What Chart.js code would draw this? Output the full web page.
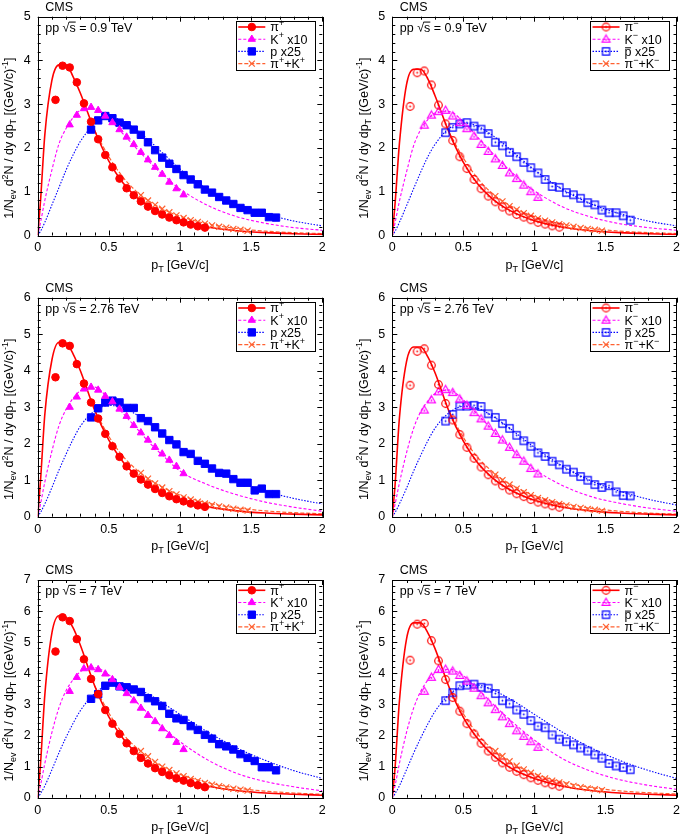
<!DOCTYPE html>
<html><head><meta charset="utf-8">
<script src="https://cdn.jsdelivr.net/npm/chart.js@4"></script>
<style>
html,body{margin:0;padding:0;background:#fff;}
#wrap{position:relative;width:685px;height:839px;overflow:hidden;}
canvas{position:absolute;}
</style></head><body><div id="wrap"></div>
<script>
// ---- bin centres (pT, GeV/c) ----
const piX = [0.125,0.175,0.225,0.275,0.325,0.375,0.425,0.475,0.525,0.575,0.625,0.675,0.725,0.775,0.825,0.875,0.925,0.975,1.025,1.075,1.125,1.175];
const kX = [0.225,0.275,0.325,0.375,0.425,0.475,0.525,0.575,0.625,0.675,0.725,0.775,0.825,0.875,0.925,0.975,1.025];
const pX = [0.375,0.425,0.475,0.525,0.575,0.625,0.675,0.725,0.775,0.825,0.875,0.925,0.975,1.025,1.075,1.125,1.175,1.225,1.275,1.325,1.375,1.425,1.475,1.525,1.575,1.625,1.675];
const pikX = [0.725,0.775,0.825,0.875,0.925,0.975,1.025,1.075,1.125,1.175,1.225,1.275,1.325,1.375,1.425,1.475];
const fitX = [0,0.02,0.05,0.1,0.15,0.2,0.25,0.3,0.4,0.5,0.6,0.7,0.8,0.9,1.0,1.2,1.4,1.6,1.8,2.0];
const pikFitX = [0.4,0.5,0.6,0.7,0.8,0.9,1.0,1.2,1.4,1.6,1.8,2.0];
const xTickLabels = ['0','0.5','1','1.5','2'];

// ---- 0.9 TeV ----
const piPos09 = [3.10,3.88,3.84,3.50,3.02,2.60,2.20,1.84,1.56,1.30,1.08,0.92,0.78,0.66,0.56,0.48,0.41,0.35,0.30,0.25,0.21,0.18];
const kPos09 = [2.53,2.75,2.90,2.93,2.86,2.73,2.58,2.42,2.25,2.08,1.90,1.73,1.56,1.40,1.22,1.07,0.93];
const pPos09 = [2.42,2.63,2.73,2.68,2.58,2.52,2.42,2.30,2.13,1.95,1.78,1.64,1.52,1.38,1.28,1.17,1.05,0.98,0.88,0.80,0.72,0.63,0.58,0.52,0.52,0.42,0.41];
const pikPos09 = [0.92,0.80,0.70,0.61,0.53,0.46,0.40,0.35,0.31,0.27,0.23,0.20,0.18,0.15,0.13,0.11];
const piFitPos09 = [0,0.8,2.3,3.55,3.9,3.9,3.62,3.25,2.4,1.7,1.2,0.86,0.63,0.46,0.34,0.19,0.11,0.065,0.04,0.025];
const kFitPos09 = [0,0.3,0.8,1.5,2.1,2.45,2.7,2.86,2.9,2.67,2.32,1.97,1.63,1.33,1.06,0.68,0.43,0.28,0.18,0.12];
const pFitPos09 = [0,0.1,0.3,0.7,1.1,1.5,1.85,2.15,2.55,2.7,2.62,2.4,2.12,1.82,1.52,1.05,0.72,0.5,0.33,0.22];
const pikFitPos09 = [2.4,1.8,1.33,0.99,0.75,0.57,0.44,0.26,0.16,0.1,0.065,0.045];

const piNeg09 = [2.95,3.72,3.76,3.44,2.98,2.55,2.17,1.80,1.53,1.28,1.07,0.90,0.77,0.65,0.56,0.48,0.42,0.36,0.30,0.26,0.22,0.19];
const kNeg09 = [2.52,2.75,2.83,2.86,2.73,2.58,2.44,2.27,2.08,1.92,1.75,1.60,1.43,1.30,1.15,1.00,0.87];
const pNeg09 = [2.35,2.47,2.55,2.58,2.50,2.43,2.33,2.13,2.05,1.90,1.80,1.67,1.55,1.43,1.28,1.12,1.10,0.98,0.93,0.85,0.75,0.70,0.58,0.52,0.52,0.45,0.35];
const pikNeg09 = [0.90,0.78,0.67,0.59,0.51,0.45,0.39,0.34,0.30,0.26,0.23,0.20,0.17,0.15,0.13,0.11];
const piFitNeg09 = [0,0.75,2.1,3.45,3.8,3.8,3.58,3.2,2.35,1.67,1.18,0.85,0.62,0.46,0.34,0.19,0.11,0.065,0.04,0.025];
const kFitNeg09 = [0,0.3,0.78,1.45,2.05,2.42,2.65,2.8,2.83,2.6,2.25,1.9,1.57,1.27,1.02,0.65,0.42,0.27,0.18,0.12];
const pFitNeg09 = [0,0.1,0.3,0.68,1.07,1.45,1.8,2.08,2.45,2.57,2.5,2.3,2.05,1.77,1.5,1.05,0.72,0.5,0.33,0.22];
const pikFitNeg09 = [2.35,1.77,1.31,0.97,0.74,0.56,0.43,0.26,0.16,0.1,0.065,0.045];

// ---- 2.76 TeV ----
const piPos276 = [3.82,4.75,4.68,4.18,3.65,3.13,2.69,2.27,1.93,1.64,1.38,1.18,1.02,0.88,0.76,0.65,0.56,0.48,0.42,0.36,0.31,0.27];
const kPos276 = [3.00,3.28,3.50,3.55,3.47,3.30,3.15,2.95,2.75,2.50,2.30,2.10,1.90,1.72,1.55,1.38,1.18];
const pPos276 = [2.72,2.97,3.13,3.18,3.13,2.98,2.98,2.70,2.62,2.45,2.28,2.10,1.98,1.77,1.72,1.53,1.45,1.32,1.20,1.18,1.03,0.93,0.93,0.72,0.77,0.62,0.62];
const pikPos276 = [1.20,1.04,0.91,0.80,0.70,0.61,0.53,0.47,0.41,0.36,0.32,0.28,0.25,0.22,0.19,0.17];
const piFitPos276 = [0,1.0,2.8,4.3,4.78,4.75,4.45,4.0,2.92,2.1,1.5,1.1,0.81,0.61,0.46,0.27,0.16,0.1,0.07,0.05];
const kFitPos276 = [0,0.35,0.95,1.8,2.5,2.95,3.25,3.45,3.55,3.22,2.83,2.4,1.97,1.6,1.25,0.87,0.6,0.4,0.26,0.15];
const pFitPos276 = [0,0.12,0.35,0.8,1.28,1.72,2.13,2.48,2.9,3.05,2.98,2.78,2.5,2.2,1.9,1.38,0.98,0.7,0.5,0.35];
const pikFitPos276 = [2.92,2.2,1.65,1.27,0.98,0.76,0.59,0.37,0.24,0.16,0.11,0.08];

const piNeg276 = [3.60,4.53,4.60,4.15,3.62,3.10,2.65,2.25,1.90,1.60,1.36,1.15,0.98,0.85,0.73,0.63,0.55,0.47,0.40,0.35,0.30,0.26];
const kNeg276 = [2.92,3.20,3.42,3.48,3.40,3.22,3.05,2.85,2.68,2.48,2.28,2.10,1.90,1.70,1.52,1.32,1.17];
const pNeg276 = [2.62,2.80,3.03,3.03,3.05,3.02,2.82,2.72,2.55,2.42,2.23,2.08,1.93,1.75,1.65,1.52,1.42,1.30,1.22,1.10,1.00,0.88,0.80,0.85,0.68,0.58,0.57];
const pikNeg276 = [1.15,1.00,0.88,0.77,0.67,0.59,0.51,0.45,0.40,0.35,0.31,0.27,0.24,0.21,0.19,0.16];
const piFitNeg276 = [0,0.9,2.7,4.25,4.65,4.65,4.38,3.95,2.88,2.07,1.48,1.08,0.8,0.6,0.45,0.26,0.16,0.1,0.07,0.05];
const kFitNeg276 = [0,0.35,0.92,1.75,2.42,2.88,3.17,3.37,3.47,3.2,2.8,2.4,2.0,1.63,1.3,0.85,0.55,0.37,0.24,0.15];
const pFitNeg276 = [0,0.12,0.35,0.78,1.25,1.68,2.08,2.42,2.85,3.02,2.97,2.77,2.5,2.2,1.9,1.38,0.98,0.7,0.48,0.32];
const pikFitNeg276 = [2.88,2.17,1.63,1.25,0.96,0.75,0.58,0.36,0.23,0.15,0.1,0.07];

// ---- 7 TeV ----
const piPos7 = [4.70,5.80,5.68,5.10,4.45,3.82,3.33,2.82,2.38,2.05,1.75,1.50,1.28,1.10,0.95,0.83,0.72,0.62,0.55,0.47,0.40,0.34];
const kPos7 = [3.42,3.87,4.15,4.18,4.12,3.98,3.80,3.55,3.35,3.12,2.88,2.65,2.45,2.22,2.00,1.78,1.55];
const pPos7 = [3.18,3.33,3.60,3.70,3.58,3.55,3.48,3.40,3.20,3.10,2.95,2.70,2.55,2.50,2.30,2.18,2.02,1.90,1.72,1.65,1.55,1.40,1.28,1.18,0.98,0.98,0.88];
const pikPos7 = [1.50,1.33,1.15,1.00,0.89,0.78,0.69,0.60,0.54,0.47,0.42,0.37,0.33,0.29,0.26,0.23];
const piFitPos7 = [0,1.1,3.3,5.3,5.85,5.8,5.45,4.9,3.6,2.6,1.9,1.4,1.05,0.8,0.61,0.37,0.23,0.15,0.11,0.08];
const kFitPos7 = [0,0.4,1.1,2.1,2.9,3.45,3.8,4.05,4.18,3.95,3.5,3.05,2.6,2.17,1.8,1.2,0.78,0.52,0.35,0.22];
const pFitPos7 = [0,0.13,0.38,0.9,1.45,1.95,2.4,2.8,3.35,3.62,3.65,3.5,3.27,2.98,2.68,2.1,1.6,1.2,0.87,0.62];
const pikFitPos7 = [3.6,2.72,2.05,1.58,1.22,0.95,0.75,0.48,0.31,0.21,0.15,0.11];

const piNeg7 = [4.42,5.58,5.60,5.05,4.40,3.80,3.22,2.78,2.38,2.05,1.75,1.50,1.30,1.12,0.98,0.85,0.74,0.64,0.56,0.48,0.42,0.37];
const kNeg7 = [3.42,3.87,4.12,4.13,4.07,3.93,3.75,3.52,3.28,3.05,2.83,2.60,2.38,2.15,1.97,1.80,1.62];
const pNeg7 = [3.12,3.38,3.60,3.62,3.65,3.55,3.52,3.35,3.12,3.02,2.82,2.68,2.48,2.30,2.25,2.02,1.88,1.80,1.70,1.60,1.50,1.38,1.27,1.10,1.02,0.97,0.90];
const pikNeg7 = [1.50,1.34,1.17,1.03,0.91,0.80,0.70,0.62,0.55,0.49,0.43,0.38,0.34,0.30,0.27,0.24];
const piFitNeg7 = [0,1.0,3.1,5.1,5.62,5.62,5.3,4.8,3.55,2.58,1.9,1.4,1.05,0.8,0.62,0.37,0.23,0.15,0.11,0.08];
const kFitNeg7 = [0,0.4,1.1,2.1,2.88,3.42,3.78,4.0,4.13,3.92,3.5,3.05,2.62,2.22,1.85,1.25,0.85,0.58,0.4,0.27];
const pFitNeg7 = [0,0.13,0.38,0.9,1.43,1.92,2.37,2.77,3.32,3.58,3.62,3.48,3.25,2.98,2.68,2.1,1.6,1.2,0.88,0.62];
const pikFitNeg7 = [3.55,2.7,2.05,1.58,1.23,0.97,0.77,0.5,0.33,0.22,0.16,0.12];

const yMaxes = [5,6,7];
const energies = ['0.9','2.76','7'];

// ---------------- drawing ----------------
const FAM = '"Liberation Sans", Arial, Helvetica, sans-serif';
const RED = '#ff0000', MAG = '#ff00ff', BLUE = '#0000ff', ORA = '#ff6030';

function pts(xs, ys){ const out=[]; for(let i=0;i<xs.length;i++){ if(ys[i]!=null) out.push({x:xs[i], y:ys[i]}); } return out; }

function openMarker(shape, color){
  const c=document.createElement('canvas'); const S=13; c.width=S; c.height=S;
  const g=c.getContext('2d'); g.strokeStyle=color; g.fillStyle=color; g.lineWidth=1.2;
  const m=S/2; g.beginPath();
  if(shape==='circle') g.arc(m,m,3.8,0,2*Math.PI);
  else if(shape==='rect') g.rect(m-3.6,m-3.6,7.2,7.2);
  else { g.moveTo(m,m-4.2); g.lineTo(m+4,m+2.8); g.lineTo(m-4,m+2.8); g.closePath(); }
  g.stroke();
  g.beginPath(); g.arc(m, shape==='tri'? m+0.5 : m, 0.9, 0, 2*Math.PI); g.fill();
  return c;
}
const openCircle = openMarker('circle', RED), openTri = openMarker('tri', MAG), openRect = openMarker('rect', BLUE);

function drawRich(ctx, segs, x, y, size, align){
  let w=0;
  const parts = segs.map(s=>{ const fs = s[1]? size*0.72 : size; ctx.font = fs+'px '+FAM; const mw = ctx.measureText(s[0]).width; w+=mw; return {t:s[0], lvl:s[1], fs, mw, bar:s[2]}; });
  let cx = align==='center'? x-w/2 : (align==='right'? x-w : x);
  ctx.textAlign='left'; ctx.textBaseline='alphabetic';
  const base = y + size*0.35;
  for(const p of parts){
    ctx.font = p.fs+'px '+FAM;
    const dy = p.lvl===1? -size*0.42 : (p.lvl===-1? size*0.25 : 0);
    ctx.fillText(p.t, cx, base+dy);
    if(p.bar==='bar') ctx.fillRect(cx+0.5, base - size*0.68, p.mw-1, 1);
    if(p.bar==='root') ctx.fillRect(cx-0.5, base - size*0.80, p.mw+0.5, 1);
    cx += p.mw;
  }
}

const yTitle = [['1/N',0],['ev',-1],[' d',0],['2',1],['N / dy dp',0],['T',-1],[' [(GeV/c)',0],['-1',1],[']',0]];
const xTitle = [['p',0],['T',-1],[' [GeV/c]',0]];
const legPos = [
  [['π',0],['+',1]],
  [['K',0],['+',1],[' x10',0]],
  [['p x25',0]],
  [['π',0],['+',1],['+K',0],['+',1]]
];
const legNeg = [
  [['π',0],['\u2212',1]],
  [['K',0],['\u2212',1],[' x10',0]],
  [['p',0,'bar'],[' x25',0]],
  [['π',0],['\u2212',1],['+K',0],['\u2212',1]]
];

const decor = {
  id:'decor',
  afterDatasetsDraw(chart, args, o){
    const ctx=chart.ctx, a=chart.chartArea, xs=chart.scales.x, ys=chart.scales.y;
    ctx.save();
    ctx.strokeStyle='#000'; ctx.lineWidth=1;
    ctx.beginPath();
    for(let v=0; v<=20; v++){
      const px = Math.round(xs.getPixelForValue(v/10))+0.5;
      const L = (v%5===0)? 5 : 3;
      ctx.moveTo(px, a.bottom); ctx.lineTo(px, a.bottom-L);
      ctx.moveTo(px, a.top); ctx.lineTo(px, a.top+L);
    }
    for(let v=0; v<=o.ymax*5; v++){
      const py = Math.round(ys.getPixelForValue(v/5))+0.5;
      const L = (v%5===0)? 5 : 3;
      ctx.moveTo(a.left, py); ctx.lineTo(a.left+L, py);
      ctx.moveTo(a.right, py); ctx.lineTo(a.right-L, py);
    }
    ctx.stroke();
    ctx.strokeRect(Math.round(a.left)+0.5, Math.round(a.top)+0.5, Math.round(a.right-a.left), Math.round(a.bottom-a.top));
    ctx.restore();
  },
  afterDraw(chart, args, o){
    const ctx=chart.ctx, a=chart.chartArea;
    ctx.save(); ctx.fillStyle='#000';
    drawRich(ctx, [['CMS',0]], a.left+7.5, a.top-10, 12.5, 'left');
    drawRich(ctx, [['pp ',0],['\u221A',0],['s',0,'root'],[' = '+o.energy+' TeV',0]], a.left+7.5, a.top+10.5, 12.5, 'left');
    drawRich(ctx, xTitle, (a.left+a.right)/2, a.bottom+29, 12.5, 'center');
    ctx.save(); ctx.translate(a.left-29, (a.top+a.bottom)/2+12); ctx.rotate(-Math.PI/2);
    drawRich(ctx, yTitle, 0, 0, 12.5, 'center'); ctx.restore();
    const bl=a.right-86.6, bt=a.top+4, bw=79.3, bh=49.3;
    ctx.fillStyle='#fff'; ctx.fillRect(bl,bt,bw,bh);
    ctx.strokeStyle='#000'; ctx.lineWidth=1; ctx.strokeRect(Math.round(bl)+0.5, Math.round(bt)+0.5, Math.round(bw), Math.round(bh));
    const labels = o.sign==='+'? legPos : legNeg;
    const ds = chart.data.datasets;
    for(let i=0;i<4;i++){
      const d = ds[i]; const f = ds[4+i];
      const ry = bt + 6.3 + 12.2*i;
      ctx.save();
      ctx.strokeStyle = f.borderColor; ctx.lineWidth = f.borderWidth; ctx.setLineDash(f.legendDash || []);
      ctx.beginPath(); ctx.moveTo(a.right-84, ry); ctx.lineTo(a.right-57, ry); ctx.stroke();
      ctx.setLineDash([]);
      ctx.fillStyle = d.backgroundColor; ctx.strokeStyle = d.borderColor; ctx.lineWidth = d.borderWidth||1;
      Chart.helpers.drawPoint(ctx, {pointStyle:d.pointStyle, radius:d.pointRadius, rotation:0, borderWidth:d.borderWidth||1}, a.right-70.5, ry);
      ctx.restore();
      ctx.fillStyle='#000';
      drawRich(ctx, labels[i], a.right-52, ry, 12.5, 'left');
    }
    ctx.restore();
  }
};

const sets = [
  {e:0, s:'+', pi:piPos09, k:kPos09, p:pPos09, pik:pikPos09, piF:piFitPos09, kF:kFitPos09, pF:pFitPos09, pikF:pikFitPos09},
  {e:0, s:'-', pi:piNeg09, k:kNeg09, p:pNeg09, pik:pikNeg09, piF:piFitNeg09, kF:kFitNeg09, pF:pFitNeg09, pikF:pikFitNeg09},
  {e:1, s:'+', pi:piPos276, k:kPos276, p:pPos276, pik:pikPos276, piF:piFitPos276, kF:kFitPos276, pF:pFitPos276, pikF:pikFitPos276},
  {e:1, s:'-', pi:piNeg276, k:kNeg276, p:pNeg276, pik:pikNeg276, piF:piFitNeg276, kF:kFitNeg276, pF:pFitNeg276, pikF:pikFitNeg276},
  {e:2, s:'+', pi:piPos7, k:kPos7, p:pPos7, pik:pikPos7, piF:piFitPos7, kF:kFitPos7, pF:pFitPos7, pikF:pikFitPos7},
  {e:2, s:'-', pi:piNeg7, k:kNeg7, p:pNeg7, pik:pikNeg7, piF:piFitNeg7, kF:kFitNeg7, pF:pFitNeg7, pikF:pikFitNeg7}
];

const rowTop = [0,280,560], rowH = [280,280,279];
const padTop = [16.7,17.7,20], xAxisH = [44.5,43.3,41.3];
const wrap = document.getElementById('wrap');

sets.forEach((S, idx)=>{
  const col = idx%2, row = Math.floor(idx/2);
  const W = col? 343 : 342, H = rowH[row];
  const cv = document.createElement('canvas');
  cv.width=W; cv.height=H; cv.style.left=(col?342:0)+'px'; cv.style.top=rowTop[row]+'px';
  cv.style.width=W+'px'; cv.style.height=H+'px';
  wrap.appendChild(cv);
  const pos = S.s==='+';
  const yw = col? 50.3 : 37.7, pr = col? 7.3 : 19.7, xh = xAxisH[row];
  const ymax = yMaxes[S.e];
  const datasets = [
    {data:pts(piX,S.pi), showLine:false, pointStyle: pos?'circle':openCircle, pointRadius: pos?3.8:4, backgroundColor:RED, borderColor:RED, borderWidth:1, order:0},
    {data:pts(kX,S.k), showLine:false, pointStyle: pos?'triangle':openTri, pointRadius: pos?4.2:4, backgroundColor:MAG, borderColor:MAG, borderWidth:1, order:0},
    {data:pts(pX,S.p), showLine:false, pointStyle: pos?'rect':openRect, pointRadius: pos?5.2:4, backgroundColor:BLUE, borderColor:BLUE, borderWidth:1, order:0},
    {data:pts(pikX,S.pik), showLine:false, pointStyle:'crossRot', pointRadius:4.3, backgroundColor:ORA, borderColor:ORA, borderWidth:1.2, order:0},
    {data:pts(fitX,S.piF), showLine:true, pointRadius:0, borderColor:RED, borderWidth:1.6, cubicInterpolationMode:'monotone', fill:false, order:1},
    {data:pts(fitX,S.kF), showLine:true, pointRadius:0, borderColor:MAG, borderWidth:1.1, borderDash:[3,2], legendDash:[3,2], cubicInterpolationMode:'monotone', fill:false, order:1},
    {data:pts(fitX,S.pF), showLine:true, pointRadius:0, borderColor:BLUE, borderWidth:1.1, borderDash:[1.5,1.5], legendDash:[1.5,1.5], cubicInterpolationMode:'monotone', fill:false, order:1},
    {data:pts(pikFitX,S.pikF), showLine:true, pointRadius:0, borderColor:ORA, borderWidth:1.2, borderDash:[4,2], legendDash:[4,2], cubicInterpolationMode:'monotone', fill:false, order:1}
  ];
  new Chart(cv, {
    type:'scatter',
    data:{datasets},
    options:{
      responsive:false, animation:false, events:[], devicePixelRatio:1,
      layout:{padding:{top:padTop[row], right:pr, left:0, bottom:0}},
      plugins:{legend:{display:false}, tooltip:{enabled:false}, decor:{ymax, energy:energies[S.e], sign:S.s}},
      scales:{
        x:{type:'linear', min:0, max:2, grid:{display:false, drawTicks:false}, border:{display:false},
           ticks:{stepSize:0.5, padding:5, color:'#000', font:{family:FAM, size:12.5}, maxRotation:0,
                  callback:(v, i)=> xTickLabels[i]},
           afterFit(s){ s.height = xh; }},
        y:{type:'linear', min:0, max:ymax, grid:{display:false, drawTicks:false}, border:{display:false},
           ticks:{stepSize:1, padding:7, color:'#000', font:{family:FAM, size:12.5}},
           afterFit(s){ s.width = yw; }}
      }
    },
    plugins:[decor]
  });
});
</script>
</body></html>
